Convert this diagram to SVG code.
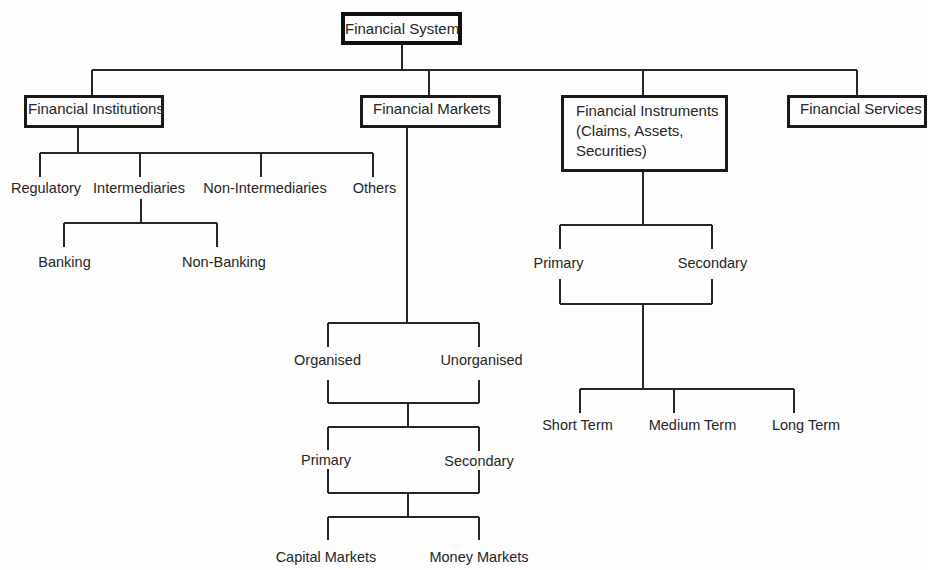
<svg xmlns="http://www.w3.org/2000/svg" width="928" height="570" viewBox="0 0 928 570">
<style>
.bg{fill:#fdfdfd}
.box{fill:#fdfdfd;stroke:#1a1a1a;stroke-width:3}
.root{fill:#fdfdfd;stroke:#111;stroke-width:4}
.ln{fill:none;stroke:#262626;stroke-width:2}
text{font-family:"Liberation Sans",Arial,sans-serif;fill:#262626}
.bt{font-size:15px}
.lb{font-size:14.5px;text-anchor:middle}
</style>
<rect class="bg" x="0" y="0" width="928" height="570"/>
<g id="connectors">
<path class="ln" d="M402 44V70M92 70H857M92 70V95M429 70V95M643 70V95M857 70V95"/>
<path class="ln" d="M78 128V153M40 153H373M40 153V177M140 153V177M261 153V177M373 153V177"/>
<path class="ln" d="M141 199V223M64 223H217M64 223V247M217 223V247"/>
<path class="ln" d="M407 128V323M328 323H479M328 323V347M479 323V347M328 380V403M479 380V403M328 403H479M408 403V427M328 427H479M328 427V450M479 427V451M328 469V493M479 470V493M328 493H479M408 493V517M328 517H479M328 517V540M479 517V540"/>
<path class="ln" d="M643 172V225M560 225H712M560 225V249M712 225V249M560 279V304M712 279V304M560 304H712M643 304V389M580 389H794M580 389V413M674 389V413M794 389V413"/>
</g>
<g id="n-system"><rect class="root" x="343" y="14" width="117" height="29"/><text class="bt" x="345" y="34">Financial System</text></g>
<g id="n-institutions"><rect class="box" x="25.5" y="96.5" width="137" height="30"/><text class="bt" x="28" y="114">Financial Institutions</text></g>
<g id="n-markets"><rect class="box" x="361.5" y="96.5" width="138" height="30"/><text class="bt" x="373" y="114">Financial Markets</text></g>
<g id="n-instruments"><rect class="box" x="562.5" y="96.5" width="164" height="74"/><text class="bt" x="576" y="116">Financial Instruments</text><text class="bt" x="576" y="136">(Claims, Assets,</text><text class="bt" x="576" y="156">Securities)</text></g>
<g id="n-services"><rect class="box" x="788.5" y="96.5" width="137" height="30"/><text class="bt" x="800" y="114">Financial Services</text></g>
<g id="n-regulatory"><text class="lb" x="46" y="193">Regulatory</text></g>
<g id="n-intermediaries"><text class="lb" x="139" y="193">Intermediaries</text></g>
<g id="n-nonintermediaries"><text class="lb" x="265" y="193">Non-Intermediaries</text></g>
<g id="n-others"><text class="lb" x="374.5" y="193">Others</text></g>
<g id="n-banking"><text class="lb" x="64.5" y="267">Banking</text></g>
<g id="n-nonbanking"><text class="lb" x="224" y="267">Non-Banking</text></g>
<g id="n-organised"><text class="lb" x="327.5" y="365">Organised</text></g>
<g id="n-unorganised"><text class="lb" x="481.5" y="365">Unorganised</text></g>
<g id="n-m-primary"><text class="lb" x="326" y="465">Primary</text></g>
<g id="n-m-secondary"><text class="lb" x="479" y="466">Secondary</text></g>
<g id="n-capital"><text class="lb" x="326" y="562">Capital Markets</text></g>
<g id="n-money"><text class="lb" x="479" y="562">Money Markets</text></g>
<g id="n-i-primary"><text class="lb" x="558.5" y="268">Primary</text></g>
<g id="n-i-secondary"><text class="lb" x="712.5" y="268">Secondary</text></g>
<g id="n-short"><text class="lb" x="577.5" y="430">Short Term</text></g>
<g id="n-medium"><text class="lb" x="692.5" y="430">Medium Term</text></g>
<g id="n-long"><text class="lb" x="806" y="430">Long Term</text></g>
</svg>
